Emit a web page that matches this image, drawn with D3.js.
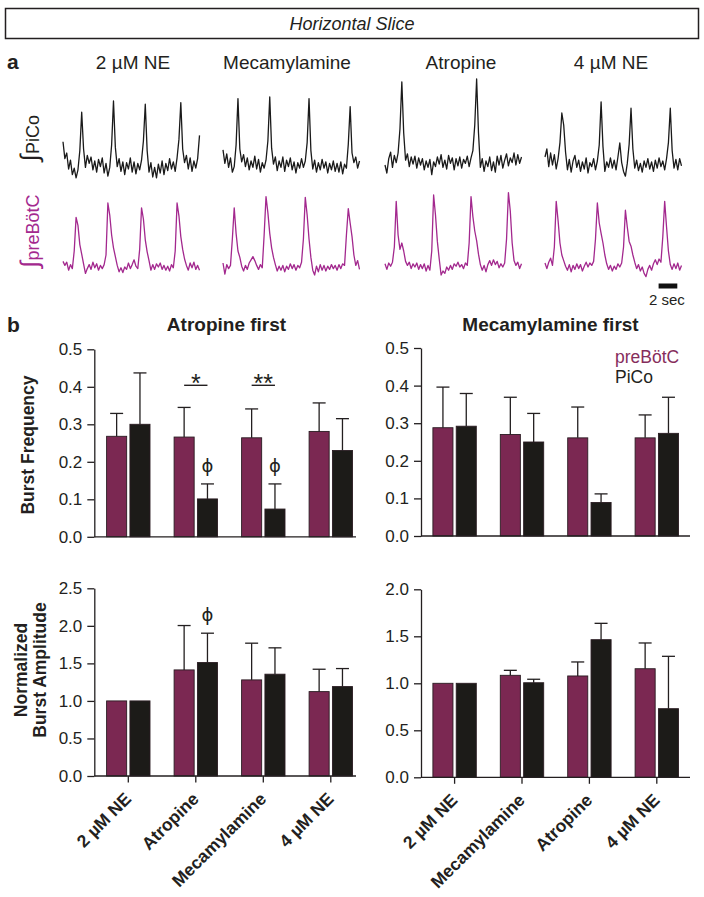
<!DOCTYPE html>
<html><head><meta charset="utf-8">
<script src="https://cdn.jsdelivr.net/npm/d3@7"></script>
<style>
body{margin:0;background:#fff}
svg text{font-family:"Liberation Sans",Arial,Helvetica,sans-serif;fill:#231f20}
</style></head><body>
<svg id="c" width="704" height="897"></svg>
<script>
// ---------- Panel a : integrated traces (arbitrary units, baseline = 0) ----------
const traceConditions = ["2 µM NE", "Mecamylamine", "Atropine", "4 µM NE"];
const traceDt = 0.2;          // seconds per sample
const scaleBarSec = 2;

const picoTrace1 = [2.9,0.8,1.5,-0.5,0.6,-1.2,-0.4,-1.6,-0.6,1.8,6.6,2.0,-0.3,1.2,0.2,1.0,-0.6,0.5,-0.9,0.7,-0.2,0.9,-1.0,0.2,-1.4,-0.3,2.5,8.0,2.2,-0.2,0.8,-0.8,0.4,-1.2,0.3,-0.5,0.9,-0.9,0.4,-1.1,0.2,-0.6,0.6,3.0,7.6,1.8,-0.9,0.3,-1.5,-0.3,-1.6,0.1,-1.0,0.5,-1.2,0.2,-0.7,0.8,-0.5,0.4,-0.8,0.9,3.2,7.8,2.0,0.3,1.2,-0.5,0.9,-0.8,0.5,-0.4,0.8,3.7];
const picoTrace2 = [1.9,0.2,1.4,-0.3,0.9,-0.9,-0.2,2.5,8.3,2.0,0.4,1.3,-0.2,0.9,-0.6,0.5,-0.3,1.1,-0.5,0.7,-0.9,0.3,-0.4,0.6,3.0,8.5,2.1,0.1,1.0,-0.7,0.5,-0.3,1.0,-0.8,0.6,-0.2,0.9,-0.6,0.4,-1.0,0.3,-0.4,0.8,-0.3,0.5,2.8,8.3,1.8,-0.5,0.6,-0.9,0.3,-0.6,0.7,-0.4,0.4,-1.0,0.2,-0.6,0.5,-0.8,0.2,-0.9,0.4,-1.1,0.1,-0.4,2.6,7.3,1.5,0.3,1.0,-0.4,0.5];
const picoTrace3 = [0.0,-1.0,0.8,1.6,-0.3,1.2,0.3,1.5,4.5,10.4,4.0,0.6,1.4,-0.2,1.0,0.1,1.1,-0.4,0.9,0.0,0.8,-0.6,0.5,-0.3,0.7,-1.2,0.4,-0.2,1.0,0.1,1.3,-0.3,0.6,-0.5,1.2,0.2,0.9,-0.6,0.8,-0.1,1.0,-0.4,0.7,0.2,1.1,-0.2,0.9,1.8,5.0,10.75,4.0,-0.3,0.8,-0.8,0.5,-0.2,1.0,-0.7,0.4,-0.9,1.1,0.0,1.2,-0.4,0.6,1.4,-0.1,0.9,0.3,1.5,0.0,1.3,0.2,1.0];
const picoTrace4 = [1.0,2.0,-0.2,1.5,0.0,1.3,-0.5,0.8,2.8,6.5,5.0,1.6,-0.6,0.7,-0.9,0.5,1.2,-0.3,0.6,-0.8,0.4,-0.5,0.9,-1.0,0.3,-0.2,0.8,-0.6,0.5,2.5,7.9,2.3,-0.8,0.4,-0.3,0.9,-0.4,0.6,-0.6,1.0,2.75,0.3,-0.8,-1.4,0.2,2.6,7.1,2.0,-0.4,0.6,-0.7,0.2,-0.9,0.5,-0.3,0.8,-0.5,0.4,-0.8,0.6,-0.4,0.9,-0.2,0.5,-0.6,0.8,2.8,7.1,1.8,-0.4,0.7,-0.6,0.8,-0.1];

const preTrace1 = [0.7,0.2,0.6,-0.4,0.3,-0.2,2.0,6.2,5.2,2.8,1.6,0.4,-0.8,-0.2,0.3,-0.3,0.6,-0.1,0.4,-0.4,0.2,-0.2,0.3,1.5,8.0,6.5,4.0,2.4,1.3,0.2,-0.6,-0.1,-0.7,0.0,-0.3,0.5,-0.2,0.3,0.9,0.1,-0.2,2.2,7.4,6.0,3.4,1.9,0.8,-0.4,0.3,-0.3,0.4,0.0,0.5,-0.3,0.2,-0.4,0.1,-0.5,0.3,-0.1,2.0,8.0,6.4,3.8,2.2,1.0,0.2,-0.4,0.5,-0.1,0.6,-0.3,0.2,-0.4];
const preTrace2 = [0.5,-0.9,0.3,-0.2,0.2,3.5,7.4,4.2,2.0,1.2,0.1,-0.5,0.2,-0.3,0.5,0.9,1.3,0.8,0.2,-0.3,0.3,-0.1,4.0,8.8,6.8,4.2,2.4,1.2,0.3,-0.5,0.1,-0.4,0.2,-0.6,0.1,-0.3,0.4,-0.2,0.3,-0.4,0.2,-0.1,0.6,3.5,8.7,6.5,3.5,1.2,-0.4,-1.0,0.1,-0.6,0.3,-0.4,0.2,-0.5,0.1,-0.3,0.3,-0.2,0.2,-0.4,0.3,-0.2,0.4,0.2,4.0,7.3,5.5,3.8,1.5,0.2,0.8,-0.3];
const preTrace3 = [0.4,-0.3,0.5,0.1,0.6,2.5,8.2,4.0,2.2,3.0,2.0,0.7,0.2,0.6,-0.2,0.4,0.0,0.5,-0.3,0.3,-0.2,0.4,-0.5,0.2,-0.4,2.0,9.0,6.5,3.2,1.0,-1.0,-0.5,-0.8,0.0,-0.4,0.2,-0.3,0.4,0.1,0.6,0.0,0.3,-0.2,0.5,0.2,3.0,8.8,6.3,4.5,3.3,1.6,0.3,-0.4,0.2,-0.6,0.3,0.8,0.2,0.9,0.3,0.7,-0.1,0.4,0.0,0.5,3.5,9.3,7.0,3.0,0.8,0.2,0.6,-0.2,0.4];
const preTrace4 = [0.5,-0.2,0.6,1.1,0.2,2.5,8.2,5.8,3.0,1.5,0.8,0.1,-0.4,0.3,-0.6,0.2,-0.3,0.4,-0.2,0.3,-0.5,0.1,0.6,0.0,0.5,0.2,0.7,3.5,8.0,5.5,4.2,3.0,1.5,0.4,-0.3,0.2,-0.5,0.1,-0.3,0.4,0.0,0.5,2.5,7.1,5.0,3.2,2.6,1.5,0.6,-0.2,0.3,-0.5,0.0,-0.8,-1.2,-0.3,0.2,-0.4,0.4,0.9,0.3,1.0,0.6,3.8,8.2,5.0,2.0,0.3,-0.3,0.4,-0.2,0.5,-0.4,0.2];

const picoTraces = [picoTrace1, picoTrace2, picoTrace3, picoTrace4];
const preTraces  = [preTrace1, preTrace2, preTrace3, preTrace4];

// ---------- Panel b : bar data ----------
const catsAtropineFirst = ["2 µM NE", "Atropine", "Mecamylamine", "4 µM NE"];
const catsMecFirst      = ["2 µM NE", "Mecamylamine", "Atropine", "4 µM NE"];
const freqTicks = [0, 0.1, 0.2, 0.3, 0.4, 0.5];
const ampTicksLeft = [0, 0.5, 1.0, 1.5, 2.0, 2.5];
const ampTicksRight = [0, 0.5, 1.0, 1.5, 2.0];

const freqAtroPre     = [0.268, 0.266, 0.264, 0.281];
const freqAtroPreErr  = [0.061, 0.079, 0.077, 0.076];
const freqAtroPico    = [0.300, 0.101, 0.074, 0.230];
const freqAtroPicoErr = [0.137, 0.040, 0.067, 0.085];

const freqMecPre      = [0.288, 0.270, 0.261, 0.261];
const freqMecPreErr   = [0.108, 0.099, 0.082, 0.061];
const freqMecPico     = [0.292, 0.250, 0.089, 0.273];
const freqMecPicoErr  = [0.087, 0.076, 0.023, 0.096];

const ampAtroPre      = [1.0, 1.413, 1.280, 1.124];
const ampAtroPreErr   = [0, 0.591, 0.489, 0.298];
const ampAtroPico     = [1.0, 1.511, 1.356, 1.191];
const ampAtroPicoErr  = [0, 0.391, 0.351, 0.240];

const ampMecPre       = [1.0, 1.085, 1.078, 1.155];
const ampMecPreErr    = [0, 0.053, 0.149, 0.274];
const ampMecPico      = [1.0, 1.006, 1.464, 0.730];
const ampMecPicoErr   = [0, 0.037, 0.174, 0.557];

const seriesNames = ["preBötC", "PiCo"];
const COL_PRE = "#7b2852", COL_PICO = "#1c1b18", COL_PRE_TRACE = "#a3288e", INK = "#231f20";

// ---------- drawing ----------
const svg = d3.select("#c");

// header box
svg.append("rect").attr("x", 5.5).attr("y", 8.5).attr("width", 693).attr("height", 30)
  .attr("fill", "none").attr("stroke", INK).attr("stroke-width", 1.5);
svg.append("text").attr("x", 352).attr("y", 30).attr("text-anchor", "middle")
  .attr("font-size", 18).attr("font-style", "italic").text("Horizontal Slice");

svg.append("text").attr("x", 7).attr("y", 69).attr("font-size", 21).attr("font-weight", "bold").text("a");
svg.append("text").attr("x", 7).attr("y", 332).attr("font-size", 21).attr("font-weight", "bold").text("b");

// traces
const traceX0 = [63, 223, 385, 545];
const traceDur = (picoTrace1.length - 1) * traceDt;
const pxPerSec = 9.35;
const yPico = d3.scaleLinear().domain([0, 10]).range([165, 85]);
const yPre  = d3.scaleLinear().domain([0, 10]).range([267, 187]);
const labelCx = [133, 287, 461, 611];

traceConditions.forEach((c, i) => {
  svg.append("text").attr("x", labelCx[i]).attr("y", 69).attr("text-anchor", "middle")
    .attr("font-size", 19).text(c);
  const xs = d3.scaleLinear().domain([0, traceDur]).range([traceX0[i], traceX0[i] + traceDur * pxPerSec]);
  const linePico = d3.line().x((d, j) => xs(j * traceDt)).y(d => yPico(d)).curve(d3.curveLinear);
  const linePre  = d3.line().x((d, j) => xs(j * traceDt)).y(d => yPre(d)).curve(d3.curveLinear);
  svg.append("path").attr("d", linePico(picoTraces[i])).attr("fill", "none")
    .attr("stroke", "#1a1a1a").attr("stroke-width", 1.3).attr("stroke-linejoin", "round");
  svg.append("path").attr("d", linePre(preTraces[i])).attr("fill", "none")
    .attr("stroke", COL_PRE_TRACE).attr("stroke-width", 1.3).attr("stroke-linejoin", "round");
  if (i === 3) {
    const t0 = 12.15;
    svg.append("rect").attr("x", xs(t0)).attr("y", 283.5)
      .attr("width", xs(t0 + scaleBarSec) - xs(t0)).attr("height", 5).attr("fill", "#111");
    svg.append("text").attr("x", xs(t0 + scaleBarSec / 2) - 1).attr("y", 305).attr("text-anchor", "middle")
      .attr("font-size", 15).text(scaleBarSec + " sec");
  }
});

// row labels (integral sign drawn larger)
function rowLabel(cx, cy, name, color) {
  const t = svg.append("text").attr("transform", `translate(39,${cy}) rotate(-90)`).attr("text-anchor", "middle")
    .attr("font-size", 18).style("fill", color);
  t.append("tspan").attr("font-size", 25).attr("dy", -1).text("∫");
  t.append("tspan").attr("dy", 1).text(name);
}
rowLabel(39, 138, "PiCo", INK);
rowLabel(39, 231, "preBötC", COL_PRE_TRACE);

// bar panels
function panel(o) {
  const g = svg.append("g");
  const y = d3.scaleLinear().domain([0, o.ymax]).range(o.yr);
  const xc = d3.scalePoint().domain(o.cats).range(o.cr);
  const inner = d3.scaleBand().domain(seriesNames).range([-21.7, 21.7]).paddingInner(0.14);
  const bw = inner.bandwidth();
  const data = [];
  o.cats.forEach((c, i) => {
    data.push({c, s: "preBötC", v: o.pre[i], e: o.preErr[i], col: COL_PRE});
    data.push({c, s: "PiCo", v: o.pico[i], e: o.picoErr[i], col: COL_PICO});
  });
  g.selectAll("rect.bar").data(data).join("rect").attr("class", "bar")
    .attr("x", d => xc(d.c) + inner(d.s)).attr("width", bw)
    .attr("y", d => y(d.v)).attr("height", d => y(0) - y(d.v))
    .attr("fill", d => d.col).attr("stroke", "#2a1c22").attr("stroke-width", 0.9);
  const eb = data.filter(d => d.e > 0);
  const bc = d => xc(d.c) + inner(d.s) + bw / 2;
  g.selectAll("line.ev").data(eb).join("line")
    .attr("x1", bc).attr("x2", bc).attr("y1", d => y(d.v)).attr("y2", d => y(d.v + d.e))
    .attr("stroke", INK).attr("stroke-width", 1.3);
  g.selectAll("line.ec").data(eb).join("line")
    .attr("x1", d => bc(d) - 6.5).attr("x2", d => bc(d) + 6.5)
    .attr("y1", d => y(d.v + d.e)).attr("y2", d => y(d.v + d.e))
    .attr("stroke", INK).attr("stroke-width", 1.3);
  // y axis
  const ax = g.append("g").attr("transform", `translate(${o.ax},0)`)
    .call(d3.axisLeft(y).tickValues(o.ticks).tickFormat(d3.format(".1f")).tickSize(7).tickSizeOuter(0).tickPadding(5));
  ax.selectAll("path,line").attr("stroke", INK).attr("stroke-width", 1.3);
  ax.selectAll("text").attr("font-size", 17).style("font-family", '"Liberation Sans",Arial,sans-serif').attr("fill", INK);
  // x baseline
  g.append("line").attr("x1", o.ax).attr("x2", o.xend).attr("y1", y(0)).attr("y2", y(0))
    .attr("stroke", INK).attr("stroke-width", 1.3);
  if (o.xlabels) {
    g.selectAll("line.xt").data(o.cats).join("line")
      .attr("x1", d => xc(d)).attr("x2", d => xc(d)).attr("y1", y(0)).attr("y2", y(0) + 6.5)
      .attr("stroke", INK).attr("stroke-width", 1.3);
    g.selectAll("text.xl").data(o.cats).join("text")
      .attr("transform", d => `translate(${xc(d) + 4},${y(0) + 24}) rotate(-45)`)
      .attr("text-anchor", "end").attr("font-size", 17.5).attr("font-weight", "bold").text(d => d);
  }
  if (o.title) {
    g.append("text").attr("x", o.titleX).attr("y", 331).attr("text-anchor", "middle")
      .attr("font-size", 19).attr("font-weight", "bold").text(o.title);
  }
  return {g, y, xc, inner, bw};
}

const tl = panel({cats: catsAtropineFirst, ymax: 0.5, yr: [536.8, 349.3], cr: [128.3, 330.8], ax: 94.3, xend: 356,
  ticks: freqTicks, pre: freqAtroPre, preErr: freqAtroPreErr, pico: freqAtroPico, picoErr: freqAtroPicoErr,
  title: "Atropine first", titleX: 226.5});
const tr = panel({cats: catsMecFirst, ymax: 0.5, yr: [536, 348], cr: [454.6, 656.8], ax: 421, xend: 690,
  ticks: freqTicks, pre: freqMecPre, preErr: freqMecPreErr, pico: freqMecPico, picoErr: freqMecPicoErr,
  title: "Mecamylamine first", titleX: 550.5});
const bl = panel({cats: catsAtropineFirst, ymax: 2.5, yr: [776, 588.3], cr: [128.3, 330.8], ax: 94.3, xend: 356,
  ticks: ampTicksLeft, pre: ampAtroPre, preErr: ampAtroPreErr, pico: ampAtroPico, picoErr: ampAtroPicoErr, xlabels: true});
const br = panel({cats: catsMecFirst, ymax: 2.0, yr: [777.3, 589.3], cr: [454.6, 656.8], ax: 421, xend: 690,
  ticks: ampTicksRight, pre: ampMecPre, preErr: ampMecPreErr, pico: ampMecPico, picoErr: ampMecPicoErr, xlabels: true});

// y axis titles
svg.append("text").attr("transform", "translate(34,445) rotate(-90)").attr("text-anchor", "middle")
  .attr("font-size", 17.5).attr("font-weight", "bold").text("Burst Frequency");
svg.append("text").attr("transform", "translate(27,670) rotate(-90)").attr("text-anchor", "middle")
  .attr("font-size", 17.5).attr("font-weight", "bold").text("Normalized");
svg.append("text").attr("transform", "translate(46,670) rotate(-90)").attr("text-anchor", "middle")
  .attr("font-size", 17.5).attr("font-weight", "bold").text("Burst Amplitude");

// legend
svg.append("text").attr("x", 615).attr("y", 362.5).attr("font-size", 17.5).style("fill", "#862d5c").text("preBötC");
svg.append("text").attr("x", 615).attr("y", 382.5).attr("font-size", 17.5).text("PiCo");

// significance annotations
function barCx(p, cat, s) { return p.xc(cat) + p.inner(s) + p.bw / 2; }
const sigLines = [{cat: "Atropine", label: "*"}, {cat: "Mecamylamine", label: "**"}];
sigLines.forEach(s => {
  const x1 = barCx(tl, s.cat, "preBötC"), x2 = barCx(tl, s.cat, "PiCo");
  svg.append("line").attr("x1", x1).attr("x2", x2).attr("y1", 385.3).attr("y2", 385.3)
    .attr("stroke", INK).attr("stroke-width", 1.4);
  svg.append("text").attr("x", (x1 + x2) / 2).attr("y", 392).attr("text-anchor", "middle")
    .attr("font-size", 25).text(s.label);
});
const phiMarks = [
  {p: tl, cat: "Atropine", v: freqAtroPico[1], e: freqAtroPicoErr[1]},
  {p: tl, cat: "Mecamylamine", v: freqAtroPico[2], e: freqAtroPicoErr[2]},
  {p: bl, cat: "Atropine", v: ampAtroPico[1], e: ampAtroPicoErr[1]}
];
phiMarks.forEach(m => {
  svg.append("text").attr("x", barCx(m.p, m.cat, "PiCo")).attr("y", m.p.y(m.v + m.e) - 12)
    .attr("text-anchor", "middle").attr("font-size", 18)
    .style("font-family", '"DejaVu Sans","Liberation Sans",sans-serif').text("ϕ");
});
</script>
</body></html>
